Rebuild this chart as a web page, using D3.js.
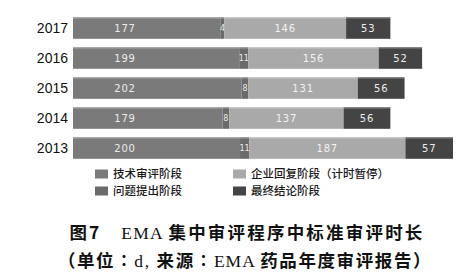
<!DOCTYPE html>
<html><head><meta charset="utf-8">
<script src="https://cdn.jsdelivr.net/npm/d3@7"></script>
<style>body{margin:0;background:#fff}svg{display:block}</style>
</head><body>
<svg id="c" width="470" height="280"></svg>
<script>
const years = ["2017","2016","2015","2014","2013"];
const techReview = [177,199,202,179,200];
const questions = [4,11,8,8,11];
const companyReply = [146,156,131,137,187];
const finalStage = [53,52,56,56,57];
const seriesNames = ["技术审评阶段","问题提出阶段","企业回复阶段（计时暂停）","最终结论阶段"];
const colors = ["#7a7a7a","#6a6a6a","#a9a9a9","#444444"];

const svg = d3.select("#c");
const data = years.map((y,i)=>({year:y, v:[techReview[i],questions[i],companyReply[i],finalStage[i]]}));
const x = d3.scaleLinear().domain([0,455]).range([73,453]);
const y = d3.scaleBand().domain(years).range([13,163]).paddingInner(0.28).paddingOuter(0.14);

const g = svg.append("g");
data.forEach(d=>{
  let acc=0;
  d.v.forEach((val,k)=>{
    const x0=x(acc), x1=x(acc+val);
    g.append("rect").attr("x",x0).attr("y",y(d.year)).attr("width",x1-x0).attr("height",y.bandwidth()).attr("fill",colors[k]);
    g.append("rect").attr("x",x0).attr("y",y(d.year)).attr("width",x1-x0).attr("height",1.5).attr("fill","#fff").attr("opacity",0.25);
    let cx = k===0 ? x0+52 : (x0+x1)/2;
    const small = k===1;
    g.append("text").attr("x",cx).attr("y",y(d.year)+y.bandwidth()/2)
      .attr("dy","0.35em").attr("text-anchor","middle")
      .attr("font-family","DejaVu Sans, sans-serif")
      .attr("font-size", small?8:10).attr("letter-spacing", small?0:0.8)
      .attr("fill", k===2?"#f2f2f2":"#ececec").text(val);
    acc+=val;
  });
});
// year axis
svg.append("g").selectAll("text").data(years).join("text")
  .attr("x",68).attr("y",d=>y(d)+y.bandwidth()/2).attr("dy","0.36em")
  .attr("text-anchor","end").attr("font-family","Liberation Sans, Arial, sans-serif")
  .attr("font-size",14).attr("fill","#111").text(d=>d);

// legend
const legPos=[[95,174],[95,191],[233,174],[233,191]];
seriesNames.forEach((n,i)=>{
  const [lx,ly]=legPos[i];
  svg.append("rect").attr("x",lx).attr("y",ly-4.5).attr("width",13).attr("height",9).attr("fill",colors[i]);
  svg.append("text").attr("x",lx+18).attr("y",ly).attr("dy","0.36em")
    .attr("font-family","Noto Sans CJK SC, sans-serif").attr("font-weight",500).attr("font-size",11.5).attr("fill","#1a1a1a").text(n);
});

// title
const t1 = svg.append("text").attr("x",247).attr("y",239).attr("text-anchor","middle")
  .attr("font-family","Noto Sans CJK SC, sans-serif").attr("font-weight","bold").attr("font-size",17.5)
  .attr("letter-spacing",2.2).attr("fill","#111");
t1.append("tspan").text("图7　");
t1.append("tspan").attr("font-family","Liberation Serif, serif").attr("font-weight","normal").attr("letter-spacing",1.2).text("EMA ");
t1.append("tspan").text("集中审评程序中标准审评时长");
const t2 = svg.append("text").attr("x",245).attr("y",267).attr("text-anchor","middle")
  .attr("font-family","Noto Sans CJK SC, sans-serif").attr("font-weight","bold").attr("font-size",17.5)
  .attr("letter-spacing",1.6).attr("fill","#111");
t2.append("tspan").text("（单位∶");
t2.append("tspan").attr("font-family","Liberation Serif, serif").attr("font-weight","normal").text("d, ");
t2.append("tspan").text("来源∶");
t2.append("tspan").attr("font-family","Liberation Serif, serif").attr("font-weight","normal").attr("letter-spacing",1).text("EMA ");
t2.append("tspan").text("药品年度审评报告）");
</script>
</body></html>
